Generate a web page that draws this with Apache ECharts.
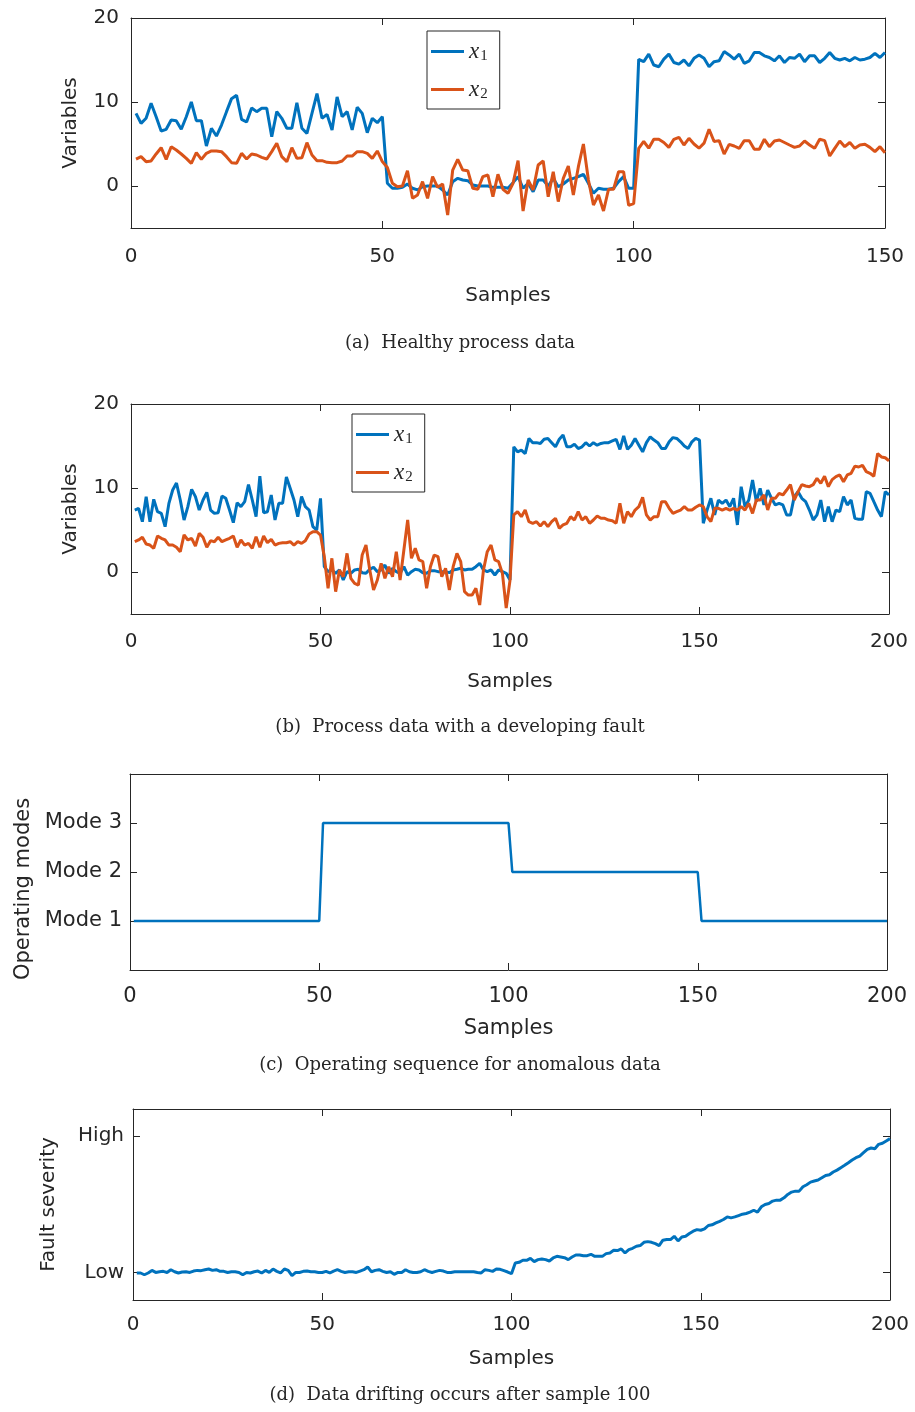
<!DOCTYPE html>
<html>
<head>
<meta charset="utf-8">
<script src="https://cdn.jsdelivr.net/npm/echarts@6/dist/echarts.min.js"></script>
<style>
  html, body { margin: 0; padding: 0; background: #ffffff; }
  #chart { width: 915px; height: 1412px; }
</style>
</head>
<body>
<div id="chart"></div>
<script>
// (a) healthy process data, samples 1..150
const healthyX1 = [
  8.65, 7.46, 8.06, 9.84, 8.25, 6.55, 6.75, 7.86, 7.78, 6.75,
  8.25, 10.0, 7.78, 7.78, 4.76, 6.87, 5.95, 7.26, 8.85, 10.4,
  10.8, 7.94, 7.62, 9.29, 8.85, 9.25, 9.25, 5.87, 8.85, 8.06,
  6.87, 6.87, 9.92, 6.87, 6.27, 8.65, 11.0, 8.06, 8.53, 6.67,
  10.6, 8.25, 8.85, 6.67, 9.37, 8.65, 6.35, 8.06, 7.54, 8.25,
  0.33, -0.27, -0.27, -0.16, 0.24, -0.27, -0.47, -0.08, 0.0, 0.0,
  0.0, -0.47, -1.07, 0.52, 0.91, 0.71, 0.63, 0.12, 0.0, 0.0,
  0.0, -0.16, -0.16, -0.16, -0.27, 0.4, 1.11, -0.27, 0.33, -0.67,
  0.71, 0.71, 0.0, 0.91, -0.08, 0.24, 0.71, 0.91, 1.11, 1.39,
  0.33, -0.87, -0.27, -0.39, -0.39, -0.27, 0.52, 1.11, -0.27, -0.27,
  15.08, 14.8, 15.7, 14.4, 14.2, 15.1, 15.7, 14.7, 14.5, 15.0,
  14.3, 15.2, 15.6, 15.2, 14.2, 14.8, 14.9, 16.0, 15.6, 15.1,
  15.7, 14.6, 14.9, 15.9, 15.9, 15.5, 15.3, 14.9, 15.5, 14.7,
  15.3, 15.2, 15.7, 14.8, 15.5, 15.5, 14.7, 15.2, 15.9, 15.2,
  15.0, 15.2, 14.9, 15.3, 15.0, 15.1, 15.3, 15.8, 15.3, 15.9
];
const healthyX2 = [
  3.21, 3.49, 2.90, 2.98, 3.81, 4.56, 3.17, 4.68, 4.29, 3.81,
  3.29, 2.70, 3.97, 3.17, 3.89, 4.17, 4.17, 4.09, 3.49, 2.78,
  2.70, 3.89, 3.21, 3.81, 3.69, 3.41, 3.21, 4.09, 5.08, 3.49,
  2.90, 4.56, 3.29, 3.37, 5.16, 3.69, 3.02, 3.02, 2.82, 2.78,
  2.78, 2.98, 3.57, 3.57, 4.09, 4.09, 3.89, 3.29, 4.17, 2.90,
  2.20, 0.33, -0.08, 0.0, 1.82, -1.47, -1.07, 0.52, -1.47, 1.11,
  -0.16, 0.24, -3.45, 1.9, 3.17, 1.9, 1.82, -0.27, -0.39, 1.11,
  1.31, -1.27, 1.39, -0.39, -0.87, 0.33, 3.02, -2.98, 0.71, -0.47,
  2.5, 2.98, -1.27, 1.7, -1.86, 0.91, 2.38, -1.07, 2.3, 5.0,
  0.71, -2.26, -1.07, -2.98, -0.39, -0.39, 1.7, 1.7, -2.3, -2.1,
  4.48, 5.3, 4.5, 5.56, 5.56, 5.18, 4.6, 5.56, 5.8, 4.88,
  5.68, 5.0, 4.5, 5.1, 6.75, 5.3, 5.4, 3.8, 4.96, 4.76,
  4.48, 5.4, 5.4, 4.37, 4.37, 5.56, 4.68, 5.36, 5.48, 5.18,
  4.88, 4.6, 4.76, 5.36, 4.88, 4.48, 5.56, 5.4, 3.57, 4.48,
  5.36, 4.68, 5.18, 4.48, 4.88, 4.96, 4.6, 4.09, 4.68, 3.96
];

// (b) process data with a developing fault, samples 1..200
const faultX1 = [
  7.38, 7.58, 5.99, 8.97, 5.99, 8.65, 7.18, 6.98, 5.4, 8.17,
  9.76, 10.6, 8.57, 6.19, 7.78, 9.84, 8.97, 7.38, 8.57, 9.48,
  7.38, 6.98, 7.06, 9.05, 8.77, 7.38, 5.87, 8.25, 7.78, 8.37,
  10.4, 8.57, 6.59, 11.4, 7.06, 7.18, 9.17, 6.19, 8.17, 8.17,
  11.3, 9.96, 8.57, 6.59, 8.97, 7.78, 7.38, 5.4, 4.99, 8.77,
  0.63, 0.04, 0.24, -0.16, 0.24, -0.95, 0.04, -0.16, 0.24, 0.32,
  -0.08, -0.16, 0.32, 0.56, 0.04, 0.24, 0.83, -0.16, 0.44, 0.04,
  -0.16, 0.63, -0.36, 0.04, 0.32, 0.24, -0.08, -0.16, 0.16, 0.16,
  0.04, 0.04, 0.04, -0.08, 0.24, 0.32, 0.44, 0.24, 0.32, 0.32,
  0.63, 1.03, 0.24, 0.04, 0.24, -0.36, 0.24, 0.04, -0.16, -0.95,
  14.9, 14.3, 14.5, 14.1, 15.9, 15.4, 15.4, 15.3, 15.8, 15.9,
  15.4, 14.9, 15.8, 16.3, 14.9, 14.9, 15.2, 14.7, 14.9, 15.4,
  15.0, 15.4, 15.1, 15.3, 15.4, 15.4, 15.6, 15.8, 14.6, 16.2,
  14.6, 15.1, 15.9, 15.1, 14.3, 15.4, 16.1, 15.7, 15.4, 14.7,
  14.7, 15.5, 16.0, 15.9, 15.5, 15.0, 14.7, 15.5, 15.9, 15.7,
  5.8, 7.38, 8.77, 6.79, 8.57, 8.17, 8.57, 7.78, 8.77, 5.6,
  10.16, 7.78, 8.57, 10.95, 8.37, 9.96, 7.98, 9.76, 8.77, 7.98,
  8.17, 7.98, 6.79, 6.79, 8.97, 9.56, 8.77, 8.37, 7.38, 6.19,
  6.79, 8.57, 5.99, 7.78, 5.99, 7.38, 7.18, 8.97, 7.98, 8.57,
  6.39, 6.27, 6.27, 9.56, 9.37, 8.37, 7.38, 6.59, 9.56, 9.17
];
const faultX2 = [
  3.61, 3.81, 4.13, 3.33, 3.21, 2.82, 4.29, 4.01, 3.81, 3.21,
  3.21, 2.94, 2.42, 4.41, 3.81, 4.01, 3.1, 4.6, 4.13, 2.94,
  3.73, 3.61, 4.13, 3.61, 3.81, 4.01, 4.29, 2.94, 3.81, 3.21,
  3.41, 2.82, 4.21, 2.94, 4.29, 3.49, 3.89, 3.21, 3.41, 3.49,
  3.49, 3.61, 3.21, 3.61, 3.41, 3.73, 4.53, 4.8, 4.8, 4.4,
  1.83, -1.94, 1.63, -2.34, 0.24, -0.56, 2.22, -0.75, -1.35, -1.55,
  2.02, 3.21, 0.24, -2.14, -0.95, 1.03, -0.75, 0.63, -0.56, 2.42,
  -0.95, 2.62, 6.2, 1.63, 2.82, 1.43, 1.23, -1.94, 0.63, 2.02,
  1.83, -0.56, 0.44, -2.14, 0.63, 2.22, 1.23, -2.34, -2.74, -2.74,
  -1.94, -3.93, 0.24, 2.42, 3.21, 1.43, 1.23, -0.16, -4.3, -1.0,
  6.79, 7.19, 6.59, 7.38, 5.99, 5.8, 5.99, 5.48, 5.99, 5.4,
  5.99, 6.39, 5.2, 5.6, 5.8, 6.59, 6.19, 7.19, 6.19, 6.59,
  5.8, 6.19, 6.67, 6.39, 6.39, 6.19, 6.11, 5.8, 8.17, 5.8,
  7.19, 6.59, 7.38, 7.78, 8.89, 6.79, 6.19, 6.59, 6.59, 8.37,
  8.37, 7.58, 6.99, 7.19, 7.38, 7.78, 7.38, 7.38, 7.7, 7.98,
  7.78, 6.59, 5.99, 7.58, 7.58, 7.38, 7.58, 7.38, 7.58, 7.38,
  7.78, 7.38, 8.17, 6.98, 8.57, 8.57, 9.17, 7.38, 8.77, 8.77,
  9.37, 9.17, 9.76, 10.4, 8.57, 9.56, 10.4, 10.24, 10.16, 10.4,
  11.15, 10.56, 11.4, 10.16, 11.0, 11.35, 11.55, 10.75, 11.55, 11.75,
  12.6, 12.5, 12.7, 11.95, 11.75, 11.4, 14.1, 13.7, 13.6, 13.25
];

// (c) operating mode per run: [mode, number of samples]
const modeRuns = [[1, 50], [3, 50], [2, 50], [1, 50]];
const modeLabels = ['Mode 1', 'Mode 2', 'Mode 3'];

// (d) fault severity (0 = Low, 1 = High), samples 1..200
const severity = [
  -0.002, -0.002, -0.015, -0.002, 0.017, 0.002, 0.007, 0.010, 0.002, 0.022,
  0.007, -0.002, 0.005, 0.007, 0.002, 0.012, 0.017, 0.015, 0.022, 0.027,
  0.017, 0.022, 0.010, 0.010, 0.002, 0.007, 0.007, 0.002, -0.015, 0.002,
  -0.002, 0.007, 0.012, -0.002, 0.017, 0.002, 0.027, 0.010, -0.002, 0.027,
  0.017, -0.022, 0.002, 0.002, 0.010, 0.012, 0.007, 0.007, 0.002, 0.002,
  0.010, -0.002, 0.012, 0.022, 0.010, 0.002, 0.007, 0.007, 0.002, 0.012,
  0.022, 0.042, 0.007, 0.017, 0.022, 0.010, 0.002, 0.007, -0.012, 0.002,
  0.002, 0.022, 0.007, 0.002, 0.002, 0.007, 0.022, 0.010, 0.002, 0.010,
  0.017, 0.012, 0.002, 0.002, 0.007, 0.007, 0.007, 0.007, 0.007, 0.007,
  0.002, -0.002, 0.022, 0.017, 0.010, 0.027, 0.025, 0.015, 0.005, -0.007,
  0.071, 0.076, 0.091, 0.091, 0.105, 0.081, 0.096, 0.101, 0.096, 0.086,
  0.108, 0.120, 0.115, 0.110, 0.096, 0.115, 0.130, 0.130, 0.125, 0.125,
  0.135, 0.120, 0.120, 0.120, 0.140, 0.145, 0.164, 0.162, 0.174, 0.145,
  0.169, 0.179, 0.194, 0.199, 0.223, 0.228, 0.223, 0.213, 0.199, 0.238,
  0.243, 0.243, 0.267, 0.233, 0.262, 0.267, 0.287, 0.304, 0.316, 0.311,
  0.321, 0.346, 0.351, 0.365, 0.377, 0.390, 0.409, 0.402, 0.409, 0.419,
  0.429, 0.434, 0.444, 0.458, 0.444, 0.483, 0.500, 0.507, 0.525, 0.532,
  0.532, 0.549, 0.574, 0.591, 0.598, 0.598, 0.630, 0.645, 0.664, 0.672,
  0.679, 0.696, 0.713, 0.718, 0.738, 0.752, 0.770, 0.787, 0.806, 0.826,
  0.843, 0.855, 0.880, 0.904, 0.914, 0.909, 0.941, 0.949, 0.966, 0.983
];
const severityLabels = ['Low', 'High'];

const variableTicks = [0, 10, 20];
const captions = [
  '(a)  Healthy process data',
  '(b)  Process data with a developing fault',
  '(c)  Operating sequence for anomalous data',
  '(d)  Data drifting occurs after sample 100'
];

// ---------------------------------------------------------------------------
const BLUE = '#0072BD';
const ORANGE = '#D95319';
const INK = '#262626';
const SANS = 'DejaVu Sans';
const SERIF = 'DejaVu Serif';
const MATH = 'Liberation Serif';

const toPoints = arr => arr.map((v, i) => [i + 1, v]);
const modeSeq = [];
modeRuns.forEach(([m, n]) => { for (let k = 0; k < n; k++) modeSeq.push(m); });

const panels = [
  { grid: { left: 131, top: 18, width: 754, height: 210 }, xMax: 150,
    yMin: -5, yMax: 20, yTicks: variableTicks, yFmt: v => String(v), yName: 'Variables',
    yNameGap: 50, yNamePad: [0, 0, 0, 0], yLabelMargin: 12, xLabelMargin: 19, xNameGap: 58, fs: 20 },
  { grid: { left: 131, top: 404, width: 758, height: 210 }, xMax: 200,
    yMin: -5, yMax: 20, yTicks: variableTicks, yFmt: v => String(v), yName: 'Variables',
    yNameGap: 50, yNamePad: [0, 0, 0, 0], yLabelMargin: 12, xLabelMargin: 18, xNameGap: 58, fs: 20 },
  { grid: { left: 130, top: 774, width: 757, height: 196 }, xMax: 200,
    yMin: 0, yMax: 4, yTicks: [1, 2, 3], yFmt: v => modeLabels[v - 1], yName: 'Operating modes',
    yNameGap: 92, yNamePad: [0, 34, 0, 0], yLabelMargin: 8, xLabelMargin: 16, xNameGap: 48, fs: 21 },
  { grid: { left: 133, top: 1109, width: 757, height: 191 }, xMax: 200,
    yMin: -0.2, yMax: 1.2, yTicks: [0, 1], yFmt: v => severityLabels[v], yName: 'Fault severity',
    yNameGap: 74, yNamePad: [0, 0, 0, 0], yLabelMargin: 9, xLabelMargin: 15, xNameGap: 49, fs: 20 }
];

const axisLine = { show: true, onZero: false, lineStyle: { color: INK, width: 1 } };
const tick = { show: true, inside: true, length: 7, lineStyle: { color: INK, width: 1 } };
const grid = [], xAxis = [], yAxis = [];
panels.forEach((p, i) => {
  grid.push(Object.assign({ containLabel: false }, p.grid));
  const xBase = { type: 'value', gridIndex: i, min: 0, max: p.xMax, interval: 50,
    axisLine, splitLine: { show: false } };
  xAxis.push(Object.assign({}, xBase, {
    position: 'bottom',
    axisTick: tick,
    axisLabel: { show: true, margin: p.xLabelMargin, color: INK, fontFamily: SANS, fontSize: p.fs },
    name: 'Samples', nameLocation: 'middle', nameGap: p.xNameGap,
    nameTextStyle: { color: INK, fontFamily: SANS, fontSize: p.fs }
  }));
  xAxis.push(Object.assign({}, xBase, {
    position: 'top', axisTick: tick, axisLabel: { show: false }
  }));
  const yBase = { type: 'value', gridIndex: i, min: p.yMin, max: p.yMax,
    axisLine, splitLine: { show: false } };
  yAxis.push(Object.assign({}, yBase, {
    position: 'left',
    axisTick: Object.assign({ customValues: p.yTicks }, tick),
    axisLabel: { show: true, margin: p.yLabelMargin, customValues: p.yTicks, formatter: p.yFmt,
      color: INK, fontFamily: SANS, fontSize: p.fs },
    name: p.yName, nameLocation: 'middle', nameGap: p.yNameGap, nameRotate: 90,
    nameTextStyle: { color: INK, fontFamily: SANS, fontSize: p.fs, padding: p.yNamePad }
  }));
  yAxis.push(Object.assign({}, yBase, {
    position: 'right',
    axisTick: Object.assign({ customValues: p.yTicks }, tick),
    axisLabel: { show: false }
  }));
});

const lineSeries = (name, data, color, gi, width) => ({
  name, type: 'line', data: toPoints(data), xAxisIndex: gi * 2, yAxisIndex: gi * 2,
  showSymbol: false, symbol: 'none', color,
  lineStyle: { color, width: width || 3 }, emphasis: { disabled: true }
});

const series = [
  lineSeries('x1', healthyX1, BLUE, 0),
  lineSeries('x2', healthyX2, ORANGE, 0),
  lineSeries('x1', faultX1, BLUE, 1),
  lineSeries('x2', faultX2, ORANGE, 1),
  lineSeries('mode', modeSeq, BLUE, 2, 2.5),
  lineSeries('severity', severity, BLUE, 3, 3)
];

const legendBase = {
  orient: 'vertical', data: ['x1', 'x2'], icon: 'rect',
  itemWidth: 33, itemHeight: 3, itemGap: 13, padding: [8, 12, 7, 4],
  backgroundColor: '#ffffff', borderColor: INK, borderWidth: 1, borderRadius: 0,
  selectedMode: false,
  formatter: name => '{v|x}{s|' + name.slice(1) + '}',
  textStyle: {
    color: INK,
    rich: {
      v: { fontFamily: MATH, fontStyle: 'italic', fontSize: 23, color: INK, lineHeight: 24 },
      s: { fontFamily: MATH, fontSize: 15, color: INK, lineHeight: 24, padding: [10, 0, 0, 1] }
    }
  }
};

const option = {
  animation: false,
  backgroundColor: '#ffffff',
  grid, xAxis, yAxis, series,
  legend: [
    Object.assign({}, legendBase, { left: 427, top: 31 }),
    Object.assign({}, legendBase, { left: 352, top: 414 })
  ],
  graphic: captions.map((t, i) => ({
    type: 'text', x: 460, y: [343, 727, 1065, 1395][i],
    style: { text: t, fill: INK, font: '18px "' + SERIF + '"', textAlign: 'center', textVerticalAlign: 'middle' }
  }))
};

const chart = echarts.init(document.getElementById('chart'), null, { renderer: 'canvas' });
chart.setOption(option);
</script>
</body>
</html>
